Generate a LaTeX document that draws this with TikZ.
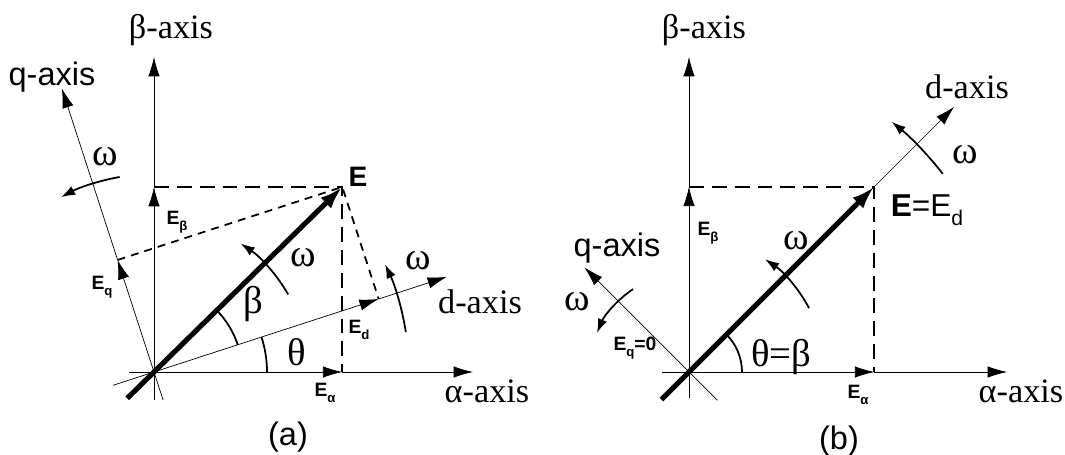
\documentclass[tikz,border=0pt]{standalone}
\usepackage{fontspec}
\setmainfont{Liberation Serif}
\setsansfont{Liberation Sans}
\usetikzlibrary{arrows.meta,calc}
\tikzset{>={Latex[length=11pt,width=6.5pt]},line width=1.2pt,
  axis/.style={->},
  vec/.style={->,line width=2.9pt,>={Latex[length=13pt,width=8.5pt]}},
  proj/.style={dash pattern=on 8.5pt off 4.5pt,line width=1pt},
  drop/.style={dash pattern=on 4.5pt off 3.5pt,line width=1pt},
  spin/.style={->,line width=1pt,>={Latex[length=8pt,width=5.5pt]}},
  ang/.style={line width=1pt},
  axlabel/.style={font=\fontsize{19.5}{21}\selectfont},
  greek/.style={font=\fontsize{22}{24}\selectfont},
  sflabel/.style={font=\sffamily\fontsize{18.5}{20}\selectfont},
  comp/.style={font=\sffamily\bfseries\fontsize{11}{12}\selectfont,inner sep=0pt}}
\newcommand\lsub[1]{\raisebox{-.55ex}{\fontsize{7.5}{8}\selectfont#1}}

\begin{document}
\begin{tikzpicture}[every node/.style={inner sep=1pt}]
\useasboundingbox (0,0) rectangle (21.3,9.1);
% (a) d-q frame turned by theta
\begin{scope}[shift={(3.08,1.66)}]
\coordinate (oa) at (0,0);
\coordinate (al) at (-0.5,0);\coordinate (ar) at (6.38,0);
\coordinate (bl) at (0,-0.56);\coordinate (bu) at (0,6.3);
\coordinate (dl) at (198:0.86);\coordinate (du) at (18:6.16);
\coordinate (ql) at (288:0.59);\coordinate (qu) at (108:5.96);
\coordinate (el) at (224.5:0.75);\coordinate (e) at (44.5:5.28);
\coordinate (ea) at (e |- oa);\coordinate (eb) at (oa |- e);
\coordinate (ed) at ($(oa)!(e)!(du)$);\coordinate (eq) at ($(oa)!(e)!(qu)$);
\draw[axis] (al)--(ea);\draw[axis] (ea)--(ar);
\draw[axis] (bl)--(eb);\draw[axis] (eb)--(bu);
\draw[axis] (dl)--(ed);\draw[axis] (ed)--(du);
\draw[axis] (ql)--(eq);\draw[axis] (eq)--(qu);
\draw[proj] (eb)--(e)--(ea);
\draw[drop] (eq)--(e)--(ed);
\draw[vec] (el)--(e);
\draw[ang] (oa) ++(0:2.26) arc[start angle=0,end angle=18,radius=2.26];
\draw[ang] (oa) ++(18:1.76) arc[start angle=18,end angle=44.5,radius=1.76];
\draw[spin] (oa) ++(100:3.96) arc[start angle=100,end angle=118,radius=3.96];
\draw[spin] (oa) ++(30:3.1) arc[start angle=30,end angle=56,radius=3.1];
\draw[spin] (oa) ++(9:5.1) arc[start angle=9,end angle=25,radius=5.1];
\node[axlabel] (ta) at (6.66,-0.38) {α-axis};
\node[axlabel] (tb) at (0.34,6.84) {β-axis};
\node[axlabel] (td) at (6.52,1.40) {d-axis};
\node[sflabel] (tq) at (-2.04,5.9) {q-axis};
\node[font=\sffamily\bfseries\fontsize{16}{17}\selectfont] (te) at (4.08,3.9) {E};
\node[comp] (tea) at (3.42,-0.42) {E\lsub{α}};
\node[comp] (teb) at (0.46,3.0) {E\lsub{β}};
\node[comp] (ted) at (4.1,0.84) {E\lsub{d}};
\node[comp] (teq) at (-1.04,1.70) {E\lsub{q}};
\node[greek] (tth) at (2.86,0.40) {θ};
\node[greek] (tbe) at (1.98,1.36) {β};
\node[greek] (wq) at (-0.98,4.30) {ω};
\node[greek] (we) at (2.98,2.28) {ω};
\node[greek] (wd) at (5.28,2.22) {ω};
\node[sflabel] (capa) at (2.68,-1.30) {(a)};
\end{scope}
% (b) d-axis lined up with E
\begin{scope}[shift={(13.78,1.66)}]
\coordinate (ob) at (0,0);
\coordinate (al) at (-0.54,0);\coordinate (ar) at (6.36,0);
\coordinate (bl) at (0,-0.52);\coordinate (bu) at (0,6.3);
\coordinate (du) at (45:7.5);
\coordinate (ql) at (315:0.8);\coordinate (qu) at (135:2.96);
\coordinate (el) at (225:0.78);\coordinate (e) at (45:5.24);
\coordinate (ea) at (e |- ob);\coordinate (eb) at (ob |- e);
\draw[axis] (al)--(ea);\draw[axis] (ea)--(ar);
\draw[axis] (bl)--(eb);\draw[axis] (eb)--(bu);
\draw[axis] (ob)--(du);
\draw[axis] (ql)--(qu);
\draw[proj] (eb)--(e)--(ea);
\draw[vec] (el)--(e);
\draw[ang] (ob) ++(0:1.06) arc[start angle=0,end angle=45,radius=1.06];
\draw[spin] (ob) ++(38:6.44) arc[start angle=38,end angle=51,radius=6.44];
\draw[spin] (ob) ++(28:2.72) arc[start angle=28,end angle=56,radius=2.72];
\draw[spin] (ob) ++(124:2.0) arc[start angle=124,end angle=157,radius=2.0];
\node[axlabel] (ta) at (6.64,-0.38) {α-axis};
\node[axlabel] (tb) at (0.30,6.84) {β-axis};
\node[axlabel] (td) at (5.56,5.70) {d-axis};
\node[sflabel] (tq) at (-1.44,2.48) {q-axis};
\node[sflabel,font=\sffamily\fontsize{18}{20}\selectfont] (te) at (4.76,3.24) {\textbf{E}=E\lsub{\fontsize{12}{12}\selectfont d}};
\node[comp] (tea) at (3.38,-0.46) {E\lsub{α}};
\node[comp] (teb) at (0.38,2.78) {E\lsub{β}};
\node[comp] (teq) at (-1.08,0.48) {E\lsub{q}=0};
\node[greek] (tth) at (1.84,0.30) {θ=β};
\node[greek] (wq) at (-2.24,1.40) {ω};
\node[greek] (we) at (2.14,2.62) {ω};
\node[greek] (wd) at (5.52,4.34) {ω};
\node[sflabel] (capb) at (3.0,-1.38) {(b)};
\end{scope}
\end{tikzpicture}
\end{document}
